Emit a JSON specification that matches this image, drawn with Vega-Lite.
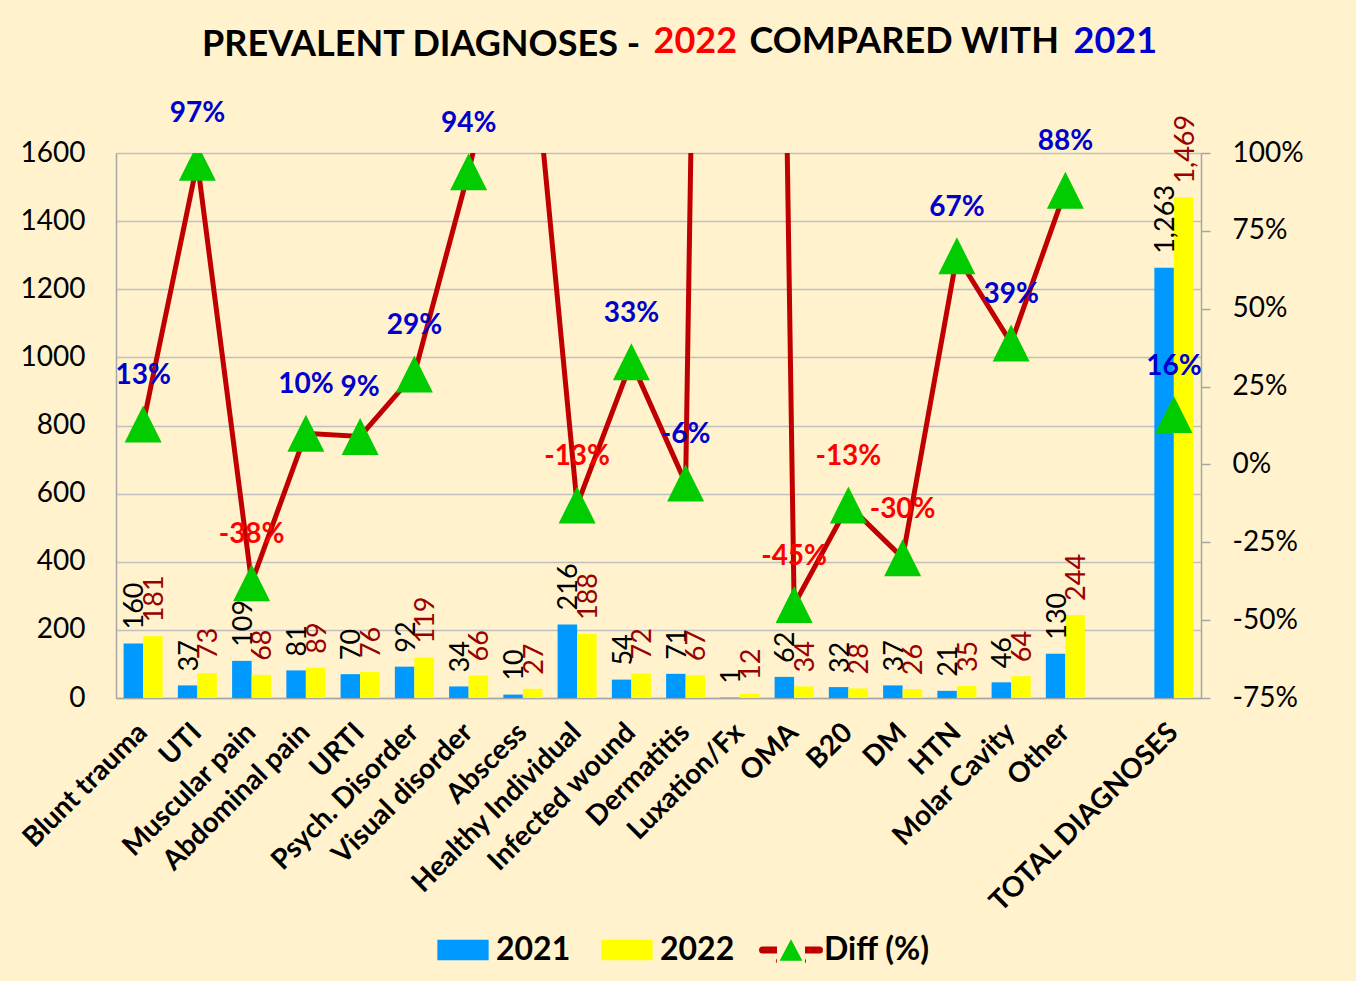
{
  "$schema": "https://vega.github.io/schema/vega-lite/v6.json",
  "width": 1085,
  "height": 545,
  "autosize": "none",
  "padding": {"left": 116, "top": 153, "right": 155, "bottom": 283},
  "background": "#FFF2CC",
  "title": {
    "text": "PREVALENT DIAGNOSES -",
    "anchor": "start",
    "frame": "group",
    "dx": 86,
    "dy": 69,
    "font": "Lato",
    "fontSize": 36,
    "fontWeight": "bold",
    "color": "#000000",
    "baseline": "alphabetic",
    "offset": 0
  },
  "datasets": {
    "bars": [
      {"cat": "Blunt trauma", "year": "2021", "count": 160}, {"cat": "Blunt trauma", "year": "2022", "count": 181},
      {"cat": "UTI", "year": "2021", "count": 37}, {"cat": "UTI", "year": "2022", "count": 73},
      {"cat": "Muscular pain", "year": "2021", "count": 109}, {"cat": "Muscular pain", "year": "2022", "count": 68},
      {"cat": "Abdominal pain", "year": "2021", "count": 81}, {"cat": "Abdominal pain", "year": "2022", "count": 89},
      {"cat": "URTI", "year": "2021", "count": 70}, {"cat": "URTI", "year": "2022", "count": 76},
      {"cat": "Psych. Disorder", "year": "2021", "count": 92}, {"cat": "Psych. Disorder", "year": "2022", "count": 119},
      {"cat": "Visual disorder", "year": "2021", "count": 34}, {"cat": "Visual disorder", "year": "2022", "count": 66},
      {"cat": "Abscess", "year": "2021", "count": 10}, {"cat": "Abscess", "year": "2022", "count": 27},
      {"cat": "Healthy Individual", "year": "2021", "count": 216}, {"cat": "Healthy Individual", "year": "2022", "count": 188},
      {"cat": "Infected wound", "year": "2021", "count": 54}, {"cat": "Infected wound", "year": "2022", "count": 72},
      {"cat": "Dermatitis", "year": "2021", "count": 71}, {"cat": "Dermatitis", "year": "2022", "count": 67},
      {"cat": "Luxation/Fx", "year": "2021", "count": 1}, {"cat": "Luxation/Fx", "year": "2022", "count": 12},
      {"cat": "OMA", "year": "2021", "count": 62}, {"cat": "OMA", "year": "2022", "count": 34},
      {"cat": "B20", "year": "2021", "count": 32}, {"cat": "B20", "year": "2022", "count": 28},
      {"cat": "DM", "year": "2021", "count": 37}, {"cat": "DM", "year": "2022", "count": 26},
      {"cat": "HTN", "year": "2021", "count": 21}, {"cat": "HTN", "year": "2022", "count": 35},
      {"cat": "Molar Cavity", "year": "2021", "count": 46}, {"cat": "Molar Cavity", "year": "2022", "count": 64},
      {"cat": "Other", "year": "2021", "count": 130}, {"cat": "Other", "year": "2022", "count": 244},
      {"cat": "TOTAL DIAGNOSES", "year": "2021", "count": 1263}, {"cat": "TOTAL DIAGNOSES", "year": "2022", "count": 1469}
    ],
    "diff": [
      {"cat": "Blunt trauma", "diff": 0.13},
      {"cat": "UTI", "diff": 0.97},
      {"cat": "Muscular pain", "diff": -0.38},
      {"cat": "Abdominal pain", "diff": 0.10},
      {"cat": "URTI", "diff": 0.09},
      {"cat": "Psych. Disorder", "diff": 0.29},
      {"cat": "Visual disorder", "diff": 0.94},
      {"cat": "Abscess", "diff": 1.70},
      {"cat": "Healthy Individual", "diff": -0.13},
      {"cat": "Infected wound", "diff": 0.33},
      {"cat": "Dermatitis", "diff": -0.06},
      {"cat": "Luxation/Fx", "diff": 11.0},
      {"cat": "OMA", "diff": -0.45},
      {"cat": "B20", "diff": -0.13},
      {"cat": "DM", "diff": -0.30},
      {"cat": "HTN", "diff": 0.67},
      {"cat": "Molar Cavity", "diff": 0.39},
      {"cat": "Other", "diff": 0.88},
      {"cat": "TOTAL DIAGNOSES", "diff": 0.16}
    ]
  },
  "encoding": {
    "x": {
      "field": "cat",
      "type": "nominal",
      "scale": {
        "domain": ["Blunt trauma", "UTI", "Muscular pain", "Abdominal pain", "URTI", "Psych. Disorder", "Visual disorder", "Abscess", "Healthy Individual", "Infected wound", "Dermatitis", "Luxation/Fx", "OMA", "B20", "DM", "HTN", "Molar Cavity", "Other", " ", "TOTAL DIAGNOSES"],
        "paddingInner": 0.28,
        "paddingOuter": 0.14
      },
      "axis": {
        "orient": "bottom",
        "labelAngle": -45,
        "labelAlign": "right",
        "labelBaseline": "middle",
        "labelFont": "Lato",
        "labelFontSize": 28,
        "labelFontWeight": "bold",
        "labelColor": "#000000",
        "labelPadding": 30,
        "labelLimit": 0,
        "labelOverlap": false,
        "ticks": false,
        "tickSize": 0,
        "domainColor": "#A6A6A6",
        "domainWidth": 1.5,
        "grid": false,
        "title": "2021",
        "titleColor": "#0000CC",
        "titleFont": "Lato",
        "titleFontSize": 36,
        "titleFontWeight": "bold",
        "titleAngle": 0,
        "titleAlign": "left",
        "titleBaseline": "alphabetic",
        "titleAnchor": "start",
        "titleX": 957,
        "titleY": -646
      }
    }
  },
  "layer": [
    {
      "data": {"name": "bars"},
      "encoding": {
        "xOffset": {"field": "year", "type": "nominal", "scale": {"domain": ["2021", "2022"], "paddingInner": 0, "paddingOuter": 0}},
        "y": {
          "field": "count",
          "type": "quantitative",
          "scale": {"domain": [0, 1600], "nice": false, "zero": true},
          "axis": {
            "orient": "left",
            "values": [0, 200, 400, 600, 800, 1000, 1200, 1400, 1600],
            "format": "d",
            "labelFont": "Lato",
            "labelFontSize": 28,
            "labelColor": "#000000",
            "labelPadding": 31,
            "ticks": false,
            "tickSize": 0,
            "domainColor": "#A6A6A6",
            "domainWidth": 1.5,
            "grid": true,
            "gridColor": "#BFBFBF",
            "gridWidth": 1.5,
            "title": "2022",
            "titleColor": "#FF0000",
            "titleFont": "Lato",
            "titleFontSize": 36,
            "titleFontWeight": "bold",
            "titleAngle": 0,
            "titleAlign": "left",
            "titleBaseline": "alphabetic",
            "titleAnchor": "start",
            "titleX": 537,
            "titleY": -101
          }
        }
      },
      "layer": [
        {
          "mark": {"type": "bar"},
          "encoding": {
            "color": {
              "field": "year",
              "type": "nominal",
              "scale": {"domain": ["2021", "2022", "Diff (%)"], "range": ["#0099FF", "#FFFF00", "#00CC00"]},
              "legend": {
                "orient": "none",
                "legendX": 315,
                "legendY": 765,
                "direction": "horizontal",
                "title": null,
                "padding": 0,
                "labelFont": "Lato",
                "labelFontSize": 32,
                "labelFontWeight": "bold",
                "labelColor": "#000000",
                "labelOffset": 1,
                "labelLimit": 0,
                "columnPadding": 24,
                "symbolSize": 3249,
                "encode": {
                  "symbols": {
                    "update": {
                      "shape": {"signal": "datum.value === 'Diff (%)' ? 'M-1,0L-0.25,0M0.25,0L1,0M0,-0.38L0.4,0.38L-0.4,0.38Z' : 'M-0.9,-0.36L0.9,-0.36L0.9,0.36L-0.9,0.36Z'"},
                      "stroke": {"signal": "datum.value === 'Diff (%)' ? {gradient: 'linear', x1: 0, y1: 0, x2: 1, y2: 0, stops: [{offset: 0, color: '#C00000'}, {offset: 0.26, color: '#C00000'}, {offset: 0.26, color: 'rgba(0,0,0,0)'}, {offset: 0.74, color: 'rgba(0,0,0,0)'}, {offset: 0.74, color: '#C00000'}, {offset: 1, color: '#C00000'}]} : 'rgba(0,0,0,0)'"},
                      "strokeWidth": {"value": 7},
                      "strokeJoin": {"value": "round"},
                      "strokeCap": {"value": "round"},
                      "opacity": {"value": 1}
                    }
                  }
                }
              }
            }
          }
        },
        {
          "mark": {"type": "text", "angle": 270, "align": "left", "baseline": "middle", "dx": 14, "dy": 2, "font": "Lato", "fontSize": 27},
          "encoding": {
            "text": {"field": "count", "type": "quantitative", "format": ","},
            "color": {"condition": {"test": "datum.year === '2021'", "value": "#000000"}, "value": "#990000"}
          }
        }
      ]
    },
    {
      "data": {"name": "diff"},
      "encoding": {
        "y": {
          "field": "diff",
          "type": "quantitative",
          "scale": {"domain": [-0.75, 1], "nice": false, "zero": false},
          "axis": {
            "orient": "right",
            "values": [-0.75, -0.5, -0.25, 0, 0.25, 0.5, 0.75, 1],
            "format": ".0%",
            "labelFont": "Lato",
            "labelFontSize": 28,
            "labelColor": "#000000",
            "labelPadding": 22,
            "ticks": true,
            "tickSize": 9,
            "tickColor": "#A6A6A6",
            "tickWidth": 1.5,
            "domainColor": "#A6A6A6",
            "domainWidth": 1.5,
            "grid": false,
            "title": "COMPARED WITH",
            "titleColor": "#000000",
            "titleFont": "Lato",
            "titleFontSize": 36,
            "titleFontWeight": "bold",
            "titleAngle": 0,
            "titleAlign": "left",
            "titleBaseline": "alphabetic",
            "titleAnchor": "start",
            "titleX": -452,
            "titleY": -101
          }
        }
      },
      "layer": [
        {
          "transform": [{"filter": "datum.cat !== 'TOTAL DIAGNOSES'"}],
          "mark": {"type": "line", "color": "#C00000", "strokeWidth": 5, "clip": true}
        },
        {
          "mark": {"type": "point", "shape": "M0,-1L1,1L-1,1Z", "size": 1369, "filled": true, "color": "#00CC00", "opacity": 1, "strokeWidth": 0, "clip": true}
        },
        {
          "transform": [{"filter": "datum.diff <= 1"}],
          "mark": {"type": "text", "dy": -48, "font": "Lato", "fontSize": 28, "fontWeight": "bold", "align": "center", "baseline": "middle"},
          "encoding": {
            "text": {"field": "diff", "type": "quantitative", "format": ".0%"},
            "color": {"condition": {"test": "datum.diff < -0.1", "value": "#FF0000"}, "value": "#0000CC"}
          }
        }
      ]
    }
  ],
  "resolve": {"scale": {"y": "independent"}},
  "config": {
    "view": {"stroke": null},
    "font": "Lato",
    "locale": {"number": {"decimal": ".", "thousands": ",", "grouping": [3], "currency": ["$", ""], "minus": "-"}}
  }
}
